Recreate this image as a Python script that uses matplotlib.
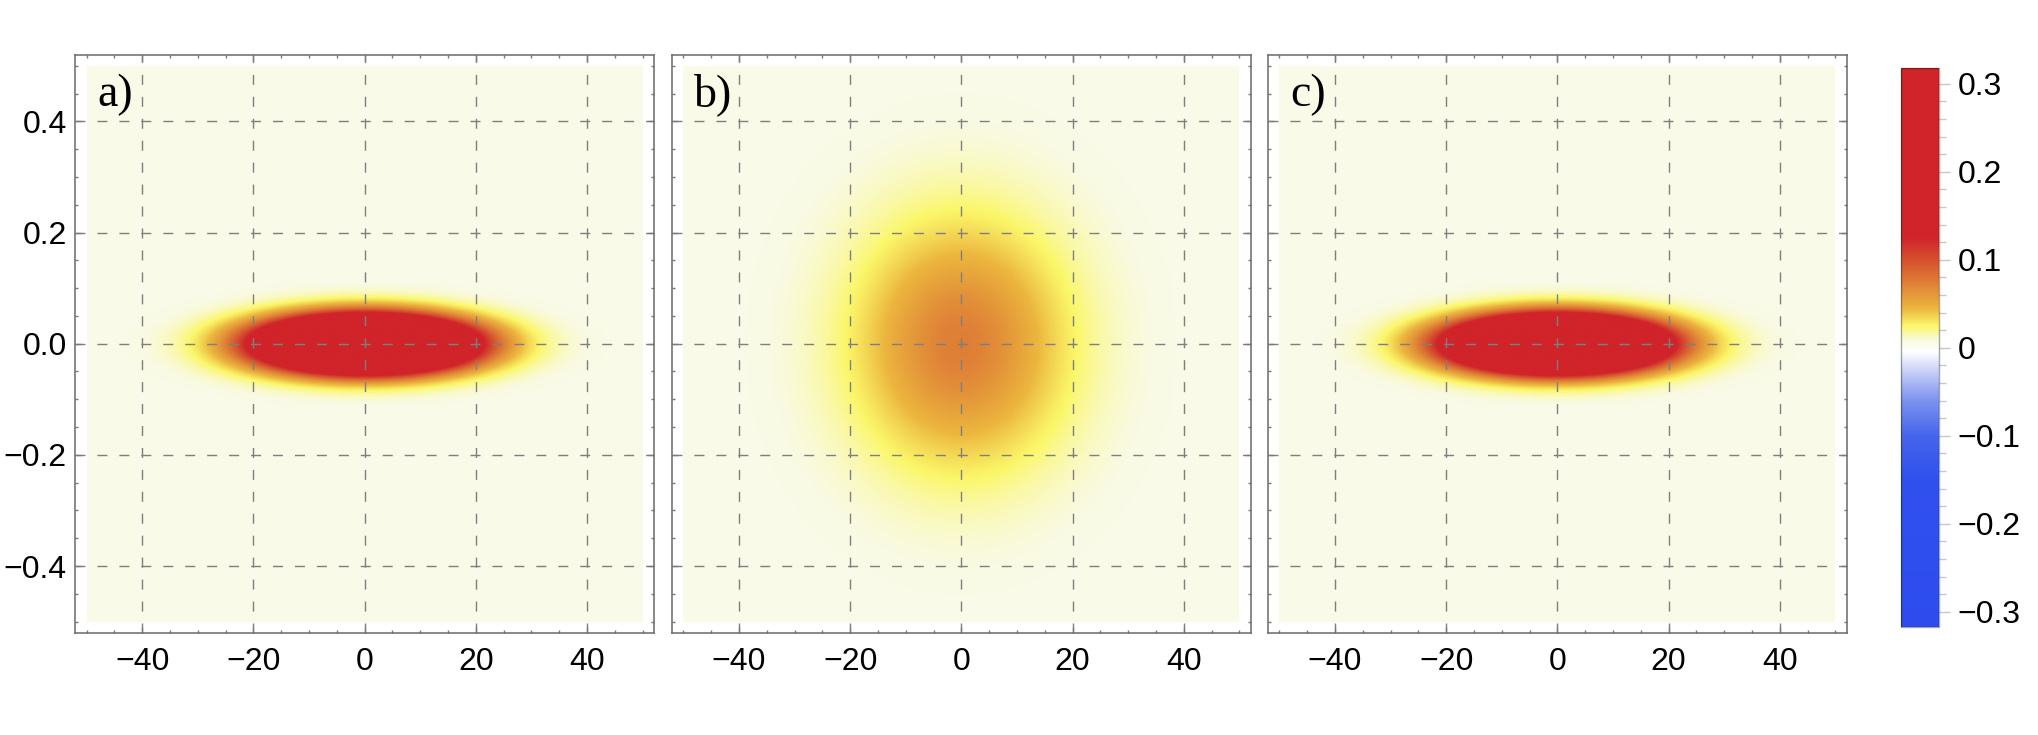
import numpy as np
import matplotlib
matplotlib.use("Agg")
import matplotlib.pyplot as plt
from matplotlib.colors import LinearSegmentedColormap, Normalize
from matplotlib.cm import ScalarMappable
from matplotlib.ticker import MultipleLocator, FixedLocator

# ---------------- data ----------------
panel_labels = ["a)", "b)", "c)"]
peak_values = [0.60, 0.068, 0.60]        # value at the centre of each blob (red saturates)
x_widths = [17.0, 18.5, 17.0]            # 1/e half-width along x
p_widths = [0.0452, 0.215, 0.0452]       # 1/e half-width along vertical axis
background_level = 0.006                 # faint cream level of the plane
x_range = [-50, 50]
p_range = [-0.5, 0.5]
x_ticks = [-40, -20, 0, 20, 40]
p_ticks = [-0.4, -0.2, 0.0, 0.2, 0.4]
p_tick_labels = ["\u22120.4", "\u22120.2", "0.0", "0.2", "0.4"]
cbar_ticks = [-0.3, -0.2, -0.1, 0.0, 0.1, 0.2, 0.3]
cbar_labels = ["\u22120.3", "\u22120.2", "\u22120.1", "0", "0.1", "0.2", "0.3"]
cbar_limit = 0.3176

cmap_values = [-0.3176, -0.15, -0.10, -0.06, -0.03, -0.004, 0.0, 0.008,
               0.025, 0.045, 0.072, 0.10, 0.125, 0.3176]
cmap_colors = ["#2e4cee", "#3050ee", "#4565ec", "#7c92ef", "#c0c9f6", "#ffffff",
               "#fdfdf5", "#f9fae4", "#fbf76a", "#ecb63e", "#df8237", "#d6502e",
               "#d0242a", "#d0232a"]

# ---------------- styling ----------------
plt.rcParams["lines.scale_dashes"] = False
plt.rcParams["axes.unicode_minus"] = True
sans = ["Liberation Sans", "DejaVu Sans"]
serif = ["Liberation Serif", "DejaVu Serif"]

norm = Normalize(vmin=-cbar_limit, vmax=cbar_limit, clip=True)
cmap = LinearSegmentedColormap.from_list(
    "wig", [((v + cbar_limit) / (2 * cbar_limit), c) for v, c in zip(cmap_values, cmap_colors)], N=1024)

W, H = 2038, 735
fig = plt.figure(figsize=(W / 100, H / 100), dpi=100)

frame_left_px = [75, 671.7, 1267.7]
frame_w_px = 579.3
frame_top_px, frame_bottom_px = 54.7, 632.7

xs = np.linspace(x_range[0], x_range[1], 700)
ps = np.linspace(p_range[0], p_range[1], 700)
X, P = np.meshgrid(xs, ps)

for i in range(3):
    ax = fig.add_axes([frame_left_px[i] / W, (H - frame_bottom_px) / H,
                       frame_w_px / W, (frame_bottom_px - frame_top_px) / H])
    field = background_level + peak_values[i] * np.exp(
        -(X / x_widths[i]) ** 2 - (P / p_widths[i]) ** 2)
    ax.imshow(field, extent=[x_range[0], x_range[1], p_range[0], p_range[1]], origin="lower",
              cmap=cmap, norm=norm, aspect="auto", interpolation="bilinear", zorder=0)
    ax.set_xlim(-52.1, 52.1)
    ax.set_ylim(-0.52, 0.52)
    ax.set_facecolor("white")

    ax.xaxis.set_major_locator(FixedLocator(x_ticks))
    ax.yaxis.set_major_locator(FixedLocator(p_ticks))
    ax.xaxis.set_minor_locator(MultipleLocator(5))
    ax.yaxis.set_minor_locator(MultipleLocator(0.05))
    ax.set_xticklabels([("\u2212" + str(abs(t))) if t < 0 else str(t) for t in x_ticks],
                       fontfamily=sans, fontsize=23)
    if i == 0:
        ax.set_yticklabels(p_tick_labels, fontfamily=sans, fontsize=23)
    ax.tick_params(which="both", direction="in", top=True, right=True,
                   color="#7a7a7a", width=1.0)
    ax.tick_params(which="major", length=4.0)
    ax.tick_params(which="minor", length=2.2)
    ax.tick_params(axis="x", which="major", pad=10.5)
    ax.tick_params(axis="y", which="major", pad=6, labelleft=(i == 0))

    ax.grid(True, which="major", color="#7f7f7f", linewidth=1.0, linestyle=(0, (7.2, 8.6)))
    for s in ax.spines.values():
        s.set_color("#6a6a6a")
        s.set_linewidth(1.1)

    ax.text(-48.1, 0.427, panel_labels[i], fontfamily=serif, fontsize=33,
            ha="left", va="baseline", zorder=5)

# ---------------- colorbar ----------------
cax = fig.add_axes([1901 / W, (H - 627.3) / H, 37.7 / W, (627.3 - 68.3) / H])
cb = fig.colorbar(ScalarMappable(norm=norm, cmap=cmap), cax=cax)
cb.set_ticks(cbar_ticks)
cb.set_ticklabels(cbar_labels)
for t in cb.ax.get_yticklabels():
    t.set_fontfamily(sans)
    t.set_fontsize(23)
minor = [round(v, 2) for v in np.arange(-0.30, 0.3001, 0.02)]
cb.ax.yaxis.set_minor_locator(FixedLocator(minor))
cb.ax.tick_params(which="both", direction="out", color="#c8c8c8", width=1.0)
cb.ax.tick_params(which="major", length=8, pad=5.5)
cb.ax.tick_params(which="minor", length=5)
cb.outline.set_edgecolor((0, 0, 0, 0.35))
cb.outline.set_linewidth(1.0)

fig.savefig("out.png", dpi=100)
